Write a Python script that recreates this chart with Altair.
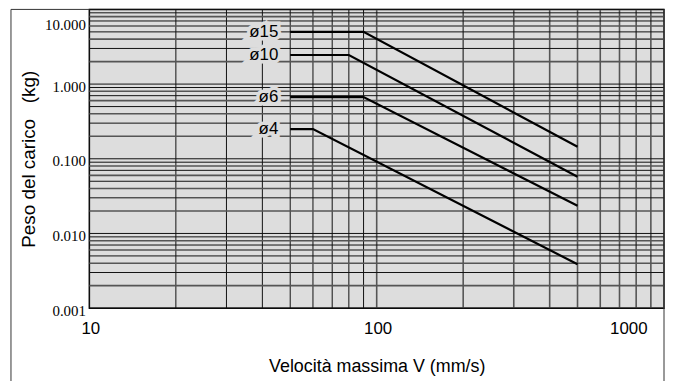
import altair as alt
import pandas as pd

# ---- data ----
series = ["ø15", "ø10", "ø6", "ø4"]
speed_start = [50, 50, 50, 50]        # mm/s, start of flat part
speed_knee = [90, 80, 90, 60]         # mm/s, end of flat part
speed_end = [500, 500, 500, 500]      # mm/s, end of curve
load_max = [5.0, 2.45, 0.67, 0.25]    # kg, flat part
load_end = [0.145, 0.0576, 0.0235, 0.00387]  # kg at speed_end

x_ticks = [10, 100, 1000]
y_ticks = [0.001, 0.01, 0.1, 1, 10]
x_grid = [10, 20, 30, 40, 50, 60, 70, 80, 90,
          100, 200, 300, 400, 500, 600, 700, 800, 900, 1000]
y_grid = [0.001, 0.002, 0.003, 0.004, 0.005, 0.006, 0.007, 0.008, 0.009,
          0.01, 0.02, 0.03, 0.04, 0.05, 0.06, 0.07, 0.08, 0.09,
          0.1, 0.2, 0.3, 0.4, 0.5, 0.6, 0.7, 0.8, 0.9,
          1, 2, 3, 4, 5, 6, 7, 8, 9, 10]

x_title = "Velocità massima V (mm/s)"
y_title = "Peso del carico \u00a0\u00a0(kg)"

# ---- tables ----
rows = []
for s, a, k, e, m, me in zip(series, speed_start, speed_knee, speed_end, load_max, load_end):
    rows.append({"s": s, "o": 0, "v": a, "m": m})
    rows.append({"s": s, "o": 1, "v": k, "m": m})
    rows.append({"s": s, "o": 2, "v": e, "m": me})
lines_df = pd.DataFrame(rows)
labels_df = pd.DataFrame({"s": series, "v": speed_start, "m": load_max})
xg_df = pd.DataFrame({"v": x_grid})
yg_df = pd.DataFrame({"m": y_grid})

BG = "#dddddd"
FONT = "Liberation Sans"

xscale = alt.Scale(type="log", domain=[10, 1000])
yscale = alt.Scale(type="log", domain=[0.001, 10])

x_axis = alt.Axis(
    values=x_ticks, grid=False, ticks=False, domain=False,
    labelExpr="'' + datum.value",
    labelFlush=False, labelOverlap=False, labelFontSize=17, labelFont=FONT,
    labelColor="#000", labelPadding=13,
    labelOffset={"condition": {"test": "datum.value == 1000", "value": -36}, "value": 1},
    title=x_title, titleFont=FONT, titleFontSize=18, titleFontWeight="normal",
    titleColor="#000", titlePadding=21,
)
y_axis = alt.Axis(
    values=y_ticks, grid=False, ticks=False, domain=False,
    labelExpr="format(datum.value, '.3f')", labelOverlap=False, labelFlush=False,
    labelFontSize=15, labelFont="Liberation Sans Narrow", labelColor="#000",
    labelPadding=4,
    labelOffset={"condition": {"test": "datum.value == 10", "value": 15}, "value": 2},
    title=y_title, titleFont=FONT, titleFontSize=19, titleFontWeight="normal",
    titleColor="#000", titlePadding=6,
)

vgrid = alt.Chart(xg_df).mark_rule().encode(
    x=alt.X("v:Q", scale=xscale, axis=x_axis),
    color=alt.condition("datum.v >= 100", alt.value("#555555"), alt.value("#111111")),
    strokeWidth=alt.condition("datum.v >= 100", alt.value(1.6), alt.value(1.0)),
)

even_test = "floor(datum.m / pow(10, floor(log(datum.m) / LN10 + 1e-9)) + 0.5) % 2 == 0"
hgrid = alt.Chart(yg_df).mark_rule().encode(
    y=alt.Y("m:Q", scale=yscale, axis=y_axis),
    color=alt.condition(even_test, alt.value("#555555"), alt.value("#111111")),
    strokeWidth=alt.condition(even_test, alt.value(1.6), alt.value(1.0)),
)

curves = alt.Chart(lines_df).mark_line(color="#000", strokeWidth=2.2).encode(
    x=alt.X("v:Q", scale=xscale),
    y=alt.Y("m:Q", scale=yscale),
    detail="s:N",
    order="o:Q",
)

halo = alt.Chart(labels_df).mark_text(
    align="right", baseline="middle", dx=-12, fontSize=17, font=FONT,
    stroke=BG, strokeWidth=7, fill=BG,
).encode(x=alt.X("v:Q", scale=xscale), y=alt.Y("m:Q", scale=yscale), text="s:N")

texts = alt.Chart(labels_df).mark_text(
    align="right", baseline="middle", dx=-12, fontSize=17, font=FONT, color="#000",
).encode(x=alt.X("v:Q", scale=xscale), y=alt.Y("m:Q", scale=yscale), text="s:N")

one = alt.Data(values=[{"k": 0}])
frame_left = alt.Chart(one).mark_rule(color="#333", strokeWidth=1).encode(
    x=alt.value(-79), y=alt.value(0), y2=alt.value(400))
frame_top = alt.Chart(one).mark_rule(color="#333", strokeWidth=1).encode(
    x=alt.value(-79), x2=alt.value(0), y=alt.value(0))
frame_right = alt.Chart(one).mark_rule(color="#333", strokeWidth=1).encode(
    x=alt.value(579), y=alt.value(0), y2=alt.value(400))

chart = alt.layer(
    vgrid, hgrid, curves, halo, texts, frame_left, frame_top, frame_right
).properties(
    width=579, height=301,
    autosize=alt.AutoSizeParams(type="none"),
    padding={"left": 82, "top": 0, "right": 1, "bottom": 72},
    background="white",
).configure_view(
    fill=BG, stroke="#000", strokeWidth=1.5,
)

chart.save("out.html", embed_options={"renderer": "svg", "actions": False})
